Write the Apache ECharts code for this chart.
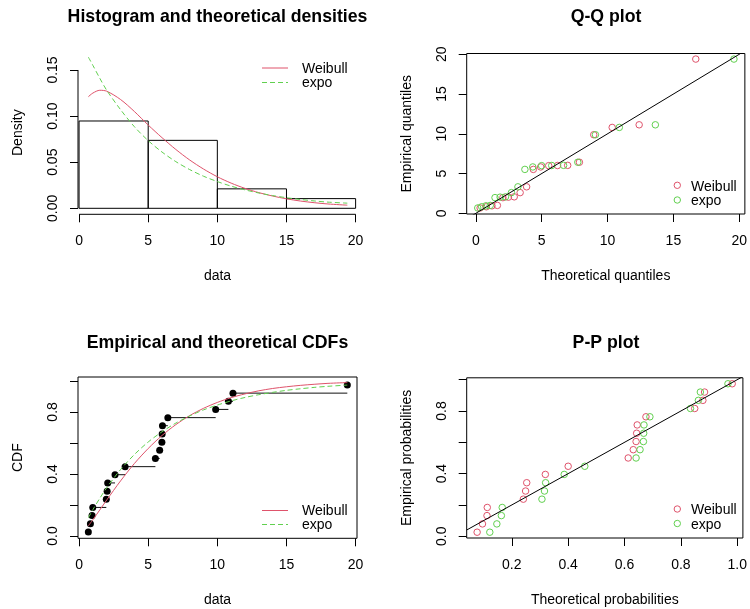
<!DOCTYPE html>
<html>
<head>
<meta charset="utf-8">
<script src="https://cdn.jsdelivr.net/npm/echarts@6/dist/echarts.min.js"></script>
<style>
  html, body { margin: 0; padding: 0; background: #fff; }
  #chart { width: 750px; height: 609px; }
</style>
</head>
<body>
<div id="chart"></div>
<script>
// sorted observations and their plotting positions
const obs = [0.67, 0.82, 0.94, 0.99, 1.97, 2.03, 2.07, 2.6, 3.33, 5.52, 5.83, 5.99, 6.01, 6.03, 6.42, 9.88, 10.8, 11.13, 19.4];
const obsProb = [0.026, 0.079, 0.132, 0.184, 0.237, 0.289, 0.342, 0.395, 0.447, 0.5, 0.553, 0.605, 0.658, 0.711, 0.763, 0.816, 0.868, 0.921, 0.974];

// histogram
const histBreaks = [0, 5, 10, 15, 20];
const histDens = [0.0947, 0.0737, 0.0211, 0.0105];

// fitted curves (density and cdf)
const curveX = [0.67, 1, 1.5, 2, 3, 4, 5, 6, 7, 8, 9, 10, 11, 12, 13, 14, 15, 16, 17, 18, 19.4];
const weibullDens = [0.121, 0.125, 0.128, 0.127, 0.118, 0.105, 0.0903, 0.0766, 0.0638, 0.0524, 0.0426, 0.0342, 0.0273, 0.0216, 0.017, 0.0133, 0.0103, 0.0079, 0.0061, 0.0047, 0.0034];
const expoDens = [0.164, 0.155, 0.141, 0.128, 0.107, 0.0885, 0.0734, 0.061, 0.0506, 0.042, 0.0348, 0.029, 0.024, 0.02, 0.0166, 0.0138, 0.0115, 0.0096, 0.008, 0.0067, 0.0056];
const weibullCdf = [0.065, 0.105, 0.168, 0.232, 0.355, 0.467, 0.564, 0.648, 0.718, 0.776, 0.823, 0.861, 0.892, 0.916, 0.936, 0.951, 0.962, 0.971, 0.978, 0.984, 0.989];
const expoCdf = [0.117, 0.170, 0.243, 0.311, 0.428, 0.525, 0.606, 0.672, 0.728, 0.774, 0.813, 0.844, 0.871, 0.893, 0.911, 0.926, 0.939, 0.949, 0.958, 0.965, 0.973];

// Q-Q theoretical quantiles
const weibullQ = [0.32, 0.79, 1.22, 1.63, 2.05, 2.47, 2.91, 3.36, 3.85, 4.36, 4.92, 5.53, 6.2, 6.97, 7.86, 8.95, 10.35, 12.4, 16.7];
const expoQ = [0.14, 0.44, 0.76, 1.09, 1.45, 1.84, 2.25, 2.7, 3.19, 3.72, 4.32, 4.99, 5.76, 6.66, 7.74, 9.08, 10.89, 13.63, 19.6];

// P-P theoretical probabilities
const weibullP = [0.077, 0.096, 0.112, 0.113, 0.241, 0.249, 0.253, 0.319, 0.4, 0.613, 0.631, 0.641, 0.643, 0.645, 0.676, 0.849, 0.878, 0.884, 0.982];
const expoP = [0.122, 0.147, 0.163, 0.166, 0.307, 0.316, 0.32, 0.386, 0.459, 0.641, 0.655, 0.667, 0.668, 0.669, 0.69, 0.834, 0.862, 0.869, 0.967];

// tick values
const dataTicks = [0, 5, 10, 15, 20];
const densTicks = [0, 0.05, 0.1, 0.15];
const qqTicks = [0, 5, 10, 15, 20];
const probTicks = [0, 0.2, 0.4, 0.6, 0.8, 1.0];
const probLabelTicks = [0, 0.4, 0.8];
const ppXTicks = [0.2, 0.4, 0.6, 0.8, 1.0];

// axis ranges (R adds 4% each side)
const histX = [-0.077, 20.1], histY = [-0.0065, 0.1706];
const qqX = [-0.7, 20.43], qqY = [-0.09, 20.1];
const cdfX = [-0.077, 20.1], cdfY = [-0.015, 1.025];
const ppX = [0.04, 1.02], ppY = [-0.011, 1.012];

const FONT = '"Liberation Sans", Arial, sans-serif';
const RED = '#DF536B', GREEN = '#61D04F';

const grids = [
  { left: 78, top: 51, width: 279, height: 163.3 },
  { left: 466.7, top: 53.5, width: 279, height: 160.5 },
  { left: 78, top: 377, width: 279, height: 161.3 },
  { left: 466.7, top: 377.8, width: 279, height: 160.2 }
].map((g, i) => Object.assign(g, {
  show: i > 0, borderColor: '#000', borderWidth: 1, backgroundColor: 'transparent'
}));

function axisCommon(ticks, fmt, margin) {
  return {
    type: 'value',
    axisLine: { show: false, onZero: false },
    axisTick: { show: true, length: 8, customValues: ticks, lineStyle: { color: '#000', width: 1 } },
    axisLabel: { customValues: ticks, formatter: fmt, color: '#000', fontSize: 14, fontFamily: FONT, margin: margin },
    splitLine: { show: false },
    nameLocation: 'middle',
    nameTextStyle: { color: '#000', fontSize: 14, fontFamily: FONT }
  };
}
function xAx(grid, range, ticks, fmt, name) {
  return Object.assign(axisCommon(ticks, fmt, 20), {
    gridIndex: grid, min: range[0], max: range[1], name: name, nameGap: 55
  });
}
function yAx(grid, range, ticks, fmt, name) {
  const a = Object.assign(axisCommon(ticks, fmt, 18), {
    gridIndex: grid, min: range[0], max: range[1], name: name, nameGap: 53, nameRotate: 90
  });
  a.axisLabel.rotate = 90;
  return a;
}

const intFmt = v => String(v);
const prob1 = v => probLabelTicks.indexOf(v) >= 0 ? v.toFixed(1) : '';

const openDot = (color) => ({
  type: 'scatter', symbol: 'circle', symbolSize: 6.5,
  itemStyle: { color: 'rgba(0,0,0,0)', borderColor: color, borderWidth: 1, opacity: 1 }
});
const plainLine = (color, dashed) => ({
  type: 'line', showSymbol: false, symbol: 'none', smooth: 0.3,
  lineStyle: { color: color, width: 1, type: dashed ? [5, 3] : 'solid' }
});

const histRows = histDens.map((d, i) => [histBreaks[i], histBreaks[i + 1], d]);
const stepRows = obs.slice(0, -1).map((x, i) => [x, obs[i + 1], obsProb[i]]);

const series = [
  // histogram
  {
    type: 'custom', xAxisIndex: 0, yAxisIndex: 0, data: histRows,
    renderItem: (params, api) => {
      const p0 = api.coord([api.value(0), api.value(2)]);
      const p1 = api.coord([api.value(1), 0]);
      return { type: 'rect', shape: { x: p0[0], y: p0[1], width: p1[0] - p0[0], height: p1[1] - p0[1] },
        style: { fill: 'none', stroke: '#000', lineWidth: 1 } };
    }
  },
  // detached R-style axis lines of the histogram
  { type: 'line', xAxisIndex: 0, yAxisIndex: 0, symbol: 'none', clip: false, silent: true,
    data: [[dataTicks[0], histY[0]], [dataTicks[dataTicks.length - 1], histY[0]]],
    lineStyle: { color: '#000', width: 1 } },
  { type: 'line', xAxisIndex: 0, yAxisIndex: 0, symbol: 'none', clip: false, silent: true,
    data: [[histX[0], densTicks[0]], [histX[0], densTicks[densTicks.length - 1]]],
    lineStyle: { color: '#000', width: 1 } },
  Object.assign(plainLine(RED, false), { name: 'Weibull', xAxisIndex: 0, yAxisIndex: 0,
    data: curveX.map((x, i) => [x, weibullDens[i]]) }),
  Object.assign(plainLine(GREEN, true), { name: 'expo', xAxisIndex: 0, yAxisIndex: 0,
    data: curveX.map((x, i) => [x, expoDens[i]]) }),

  // Q-Q
  Object.assign(openDot(RED), { name: 'Weibull', xAxisIndex: 1, yAxisIndex: 1,
    data: weibullQ.map((q, i) => [q, obs[i]]) }),
  Object.assign(openDot(GREEN), { name: 'expo', xAxisIndex: 1, yAxisIndex: 1,
    data: expoQ.map((q, i) => [q, obs[i]]) }),
  { type: 'line', xAxisIndex: 1, yAxisIndex: 1, symbol: 'none', silent: true,
    data: [[qqX[0], qqX[0]], [qqX[1], qqX[1]]], lineStyle: { color: '#000', width: 1 } },

  // CDF
  {
    type: 'custom', xAxisIndex: 2, yAxisIndex: 2, data: stepRows,
    renderItem: (params, api) => {
      const a = api.coord([api.value(0), api.value(2)]);
      const b = api.coord([api.value(1), api.value(2)]);
      return { type: 'line', shape: { x1: a[0], y1: a[1], x2: b[0], y2: b[1] },
        style: { stroke: '#111', lineWidth: 1 } };
    }
  },
  { type: 'scatter', xAxisIndex: 2, yAxisIndex: 2, symbol: 'circle', symbolSize: 7,
    itemStyle: { color: '#000', opacity: 1 }, data: obs.map((x, i) => [x, obsProb[i]]) },
  Object.assign(plainLine(RED, false), { name: 'Weibull', xAxisIndex: 2, yAxisIndex: 2,
    data: curveX.map((x, i) => [x, weibullCdf[i]]) }),
  Object.assign(plainLine(GREEN, true), { name: 'expo', xAxisIndex: 2, yAxisIndex: 2,
    data: curveX.map((x, i) => [x, expoCdf[i]]) }),

  // P-P
  Object.assign(openDot(RED), { name: 'Weibull', xAxisIndex: 3, yAxisIndex: 3,
    data: weibullP.map((p, i) => [p, obsProb[i]]) }),
  Object.assign(openDot(GREEN), { name: 'expo', xAxisIndex: 3, yAxisIndex: 3,
    data: expoP.map((p, i) => [p, obsProb[i]]) }),
  { type: 'line', xAxisIndex: 3, yAxisIndex: 3, symbol: 'none', silent: true,
    data: [[ppX[0], ppX[0]], [ppX[1], ppX[1]]], lineStyle: { color: '#000', width: 1 } }
];

// titles and legends
function title(text, x, y) {
  return { type: 'text', x: x, y: y, style: { text: text, fill: '#000',
    font: 'bold 17.7px ' + FONT, textAlign: 'center', textVerticalAlign: 'middle' } };
}
function label(text, x, y) {
  return { type: 'text', x: x, y: y, style: { text: text, fill: '#000',
    font: '14px ' + FONT, textAlign: 'left', textVerticalAlign: 'middle' } };
}
function lineKey(x, y, color, dashed) {
  return { type: 'line', shape: { x1: x, y1: y, x2: x + 26, y2: y },
    style: { stroke: color, lineWidth: 1, lineDash: dashed ? [5, 3] : null } };
}
function dotKey(x, y, color) {
  return { type: 'circle', shape: { cx: x, cy: y, r: 3.2 },
    style: { fill: 'none', stroke: color, lineWidth: 1 } };
}

const graphic = [
  title('Histogram and theoretical densities', 217.5, 17.5),
  title('Q-Q plot', 606, 17.5),
  title('Empirical and theoretical CDFs', 217.5, 343.5),
  title('P-P plot', 606, 343.5),

  lineKey(262, 68, RED, false), label('Weibull', 302, 69),
  lineKey(262, 82.5, GREEN, true), label('expo', 302, 83.5),

  dotKey(677.3, 185.3, RED), label('Weibull', 691, 187),
  dotKey(677.3, 200, GREEN), label('expo', 691, 201.5),

  lineKey(262, 510.5, RED, false), label('Weibull', 302, 511.5),
  lineKey(262, 524.5, GREEN, true), label('expo', 302, 525.5),

  dotKey(677.3, 509, RED), label('Weibull', 691, 510.5),
  dotKey(677.3, 523.5, GREEN), label('expo', 691, 525)
];

const chart = echarts.init(document.getElementById('chart'));
chart.setOption({
  animation: false,
  backgroundColor: '#fff',
  grid: grids,
  xAxis: [
    xAx(0, histX, dataTicks, intFmt, 'data'),
    xAx(1, qqX, qqTicks, intFmt, 'Theoretical quantiles'),
    xAx(2, cdfX, dataTicks, intFmt, 'data'),
    xAx(3, ppX, ppXTicks, v => v.toFixed(1), 'Theoretical probabilities')
  ],
  yAxis: [
    yAx(0, histY, densTicks, v => v.toFixed(2), 'Density'),
    yAx(1, qqY, qqTicks, intFmt, 'Empirical quantiles'),
    yAx(2, cdfY, probTicks, prob1, 'CDF'),
    yAx(3, ppY, probTicks, prob1, 'Empirical probabilities')
  ],
  series: series,
  graphic: graphic
});
</script>
</body>
</html>
